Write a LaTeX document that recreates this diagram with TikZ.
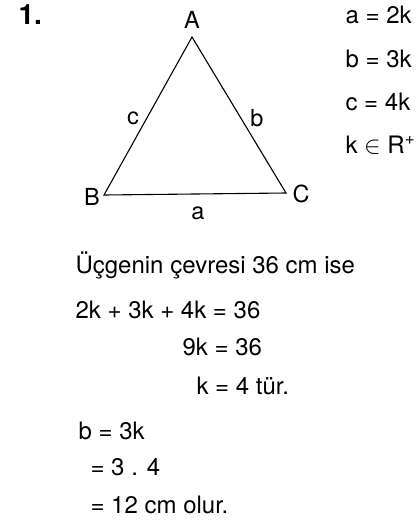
\documentclass[tikz,border=0pt]{standalone}
\usepackage{fontspec}
\setmainfont{TeX Gyre Heros}
\usepackage{tikz}
\tikzset{txt/.style={anchor=west,inner sep=0pt,font=\fontsize{24}{28}\selectfont},
  lbl/.style={inner sep=0pt,font=\fontsize{23.5}{27}\selectfont}}

\begin{document}
\begin{tikzpicture}[x=1pt,y=-1pt,line width=1.1pt]
      \useasboundingbox (0,0) rectangle (419,528);
      \node[anchor=west,inner sep=0pt,font=\fontsize{28}{30}\bfseries] (num) at (18,15) {1.};
      \coordinate (a1) at (192,37);
      \coordinate (b1) at (104,195);
      \coordinate (c1) at (286,193);
      \draw[line join=miter] (a1) -- (b1) -- (c1) -- cycle;
      \node[lbl] (A) at (192,20) {A};
      \node[lbl] (B) at (92,197) {B};
      \node[lbl] (C) at (301,194) {C};
      \node[lbl] (sa) at (198,213) {a};
      \node[lbl] (sb) at (257,118) {b};
      \node[lbl] (sc) at (133,118) {c};
      % given ratios
      \node[txt] (ra) at (345,15) {a = 2k};
      \node[txt] (rb) at (345,59) {b = 3k};
      \node[txt] (rc) at (345,102) {c = 4k};
      \node[txt] (rk) at (345,145) {k $\in$ R\textsuperscript{+}};
      % solution
      \node[txt] (s1) at (75,265) {Üçgenin çevresi 36 cm ise};
      \node[txt] (s2) at (75,310) {2k + 3k + 4k = 36};
      \node[txt] (s3) at (182,347) {9k = 36};
      \node[txt] (s4) at (196,386) {k = 4 tür.};
      \node[txt] (s5) at (78,431) {b = 3k};
      \node[txt] (s6) at (90,467) {= 3 . 4};
      \node[txt] (s7) at (90,505) {= 12 cm olur.};
\end{tikzpicture}
\end{document}
